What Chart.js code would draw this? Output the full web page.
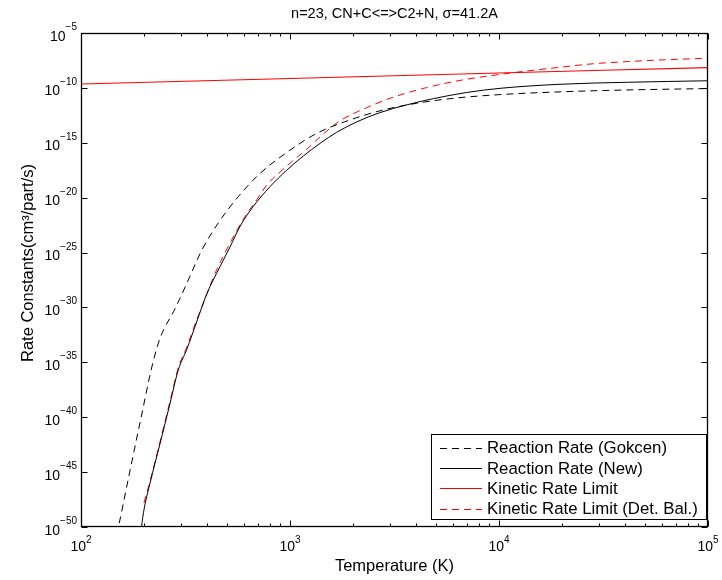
<!DOCTYPE html>
<html><head><meta charset="utf-8">
<script src="https://cdn.jsdelivr.net/npm/chart.js@4/dist/chart.umd.min.js"></script>
<style>html,body{margin:0;padding:0;background:#fff}#wrap{width:722px;height:580px;position:relative}</style>
</head><body><div id="wrap"><canvas id="c"></canvas></div>
<script>
const chartTitle = 'n=23, CN+C<=>C2+N, σ=41.2A';
const xTitle = 'Temperature (K)';
const yTitle = 'Rate Constants(cm³/part/s)';
const seriesLabels = ['Reaction Rate (Gokcen)', 'Reaction Rate (New)', 'Kinetic Rate Limit', 'Kinetic Rate Limit (Det. Bal.)'];
const xTickValues = [1e2, 1e3, 1e4, 1e5];
const yTickValues = [1e-50, 1e-45, 1e-40, 1e-35, 1e-30, 1e-25, 1e-20, 1e-15, 1e-10, 1e-5];

// Temperatures (K) and log10 of rate constants
const gokcenT    = [148, 151, 171, 194, 221, 239, 282, 321, 378, 454, 566, 718, 946, 1343, 1936, 2793, 4036, 6039, 9931, 19590, 40830, 100000];
const gokcenLogK = [-50.7, -50.0, -45.0, -40.0, -35.0, -32.8, -30.1, -27.8, -24.8, -22.3, -19.9, -17.8, -16.0, -14.14, -12.92, -12.01, -11.40, -10.95, -10.62, -10.36, -10.19, -10.06];

const newT    = [193, 199, 214, 239, 267, 292, 321, 358, 399, 462, 516, 577, 667, 802, 964, 1159, 1393, 1671, 2084, 2698, 3614, 4853, 7000, 10120, 19590, 40830, 100000];
const newLogK = [-50.6, -48.7, -46.0, -42.4, -38.7, -35.7, -33.8, -31.3, -28.8, -26.3, -24.5, -22.6, -20.8, -19.0, -17.5, -16.2, -15.05, -14.05, -13.1, -12.25, -11.55, -10.98, -10.42, -10.04, -9.67, -9.49, -9.35];

const kineticT    = [100, 1000, 10000, 100000];
const kineticLogK = [-9.645, -9.145, -8.645, -8.145];

const detBalT    = [200, 214, 239, 267, 292, 321, 358, 378, 438, 516, 610, 693, 774, 879, 1038, 1202, 1368, 1702, 2328, 3119, 4508, 6501, 10120, 13580, 19590, 28250, 40830, 58880, 100000];
const detBalLogK = [-47.8, -45.8, -42.2, -38.5, -35.5, -33.6, -31.1, -30.0, -26.9, -24.15, -21.7, -20.2, -18.85, -17.8, -16.6, -15.6, -14.6, -13.1, -11.8, -10.85, -9.97, -9.32, -8.77, -8.46, -8.12, -7.80, -7.61, -7.46, -7.30];

const toPts = (ts, ls) => ts.map((t, i) => ({x: t, y: Math.pow(10, ls[i])}));

const FONT = '"Liberation Sans", Arial, Helvetica, sans-serif';
const expOf = v => String(Math.round(Math.log10(v))).replace('-', '\u2212');

const datasets = [
  {label: seriesLabels[0], data: toPts(gokcenT, gokcenLogK), borderColor: '#000000', borderDash: [7, 5], borderWidth: 1},
  {label: seriesLabels[1], data: toPts(newT, newLogK), borderColor: '#000000', borderWidth: 1},
  {label: seriesLabels[2], data: toPts(kineticT, kineticLogK), borderColor: '#ff0000', borderWidth: 1.2},
  {label: seriesLabels[3], data: toPts(detBalT, detBalLogK), borderColor: '#ff0000', borderDash: [7, 5], borderWidth: 1}
];

const decor = {
  id: 'decor',
  afterDraw(chart) {
    const {ctx, chartArea: a, scales: {x, y}} = chart;
    const L = Math.round(a.left) + 0.5, R = Math.round(a.right) - 0.5, T = Math.round(a.top) + 0.5, B = Math.round(a.bottom) - 0.5;
    ctx.save();
    ctx.strokeStyle = '#000';
    ctx.lineWidth = 1;
    ctx.setLineDash([]);
    ctx.beginPath();
    for (let d = 2; d <= 5; d++) {
      for (let m = 1; m <= 9; m++) {
        const v = m * Math.pow(10, d);
        if (v > 1e5) break;
        const px = Math.round(x.getPixelForValue(v)) + 0.5;
        const len = m === 1 ? 6 : 3;
        ctx.moveTo(px, B); ctx.lineTo(px, B - len);
        ctx.moveTo(px, T); ctx.lineTo(px, T + len);
      }
    }
    yTickValues.forEach(v => {
      const py = Math.round(y.getPixelForValue(v)) + 0.5;
      ctx.moveTo(L, py); ctx.lineTo(L + 6, py);
      ctx.moveTo(R, py); ctx.lineTo(R - 6, py);
    });
    ctx.stroke();
    ctx.lineWidth = 1.3;
    ctx.strokeRect(L, T, R - L, B - T);

    // tick labels: 10 with raised exponent
    ctx.fillStyle = '#000';
    ctx.textBaseline = 'alphabetic';
    const big = '14px ' + FONT, small = '10px ' + FONT;
    yTickValues.forEach(v => {
      const py = y.getPixelForValue(v);
      const e = expOf(v);
      ctx.font = small; const we = ctx.measureText(e).width;
      ctx.textAlign = 'right';
      ctx.fillText(e, 77, py - 3);
      ctx.font = big;
      ctx.fillText('10', 77 - we, py + 7.5);
    });
    xTickValues.forEach(v => {
      const px = x.getPixelForValue(v);
      const e = expOf(v);
      ctx.font = small; const we = ctx.measureText(e).width;
      ctx.font = big; const wb = ctx.measureText('10').width;
      const x0 = px - (wb + we) / 2;
      ctx.textAlign = 'left';
      ctx.fillText('10', x0, 551);
      ctx.font = small;
      ctx.fillText(e, x0 + wb, 543);
    });

    // y axis title
    ctx.save();
    ctx.translate(28, 263);
    ctx.rotate(-Math.PI / 2);
    ctx.font = '16.5px ' + FONT;
    ctx.textAlign = 'center';
    ctx.textBaseline = 'middle';
    ctx.fillText(yTitle, 0, 0);
    ctx.restore();

    // title
    ctx.font = '14.5px ' + FONT;
    ctx.textAlign = 'center';
    ctx.textBaseline = 'middle';
    ctx.fillText(chartTitle, (a.left + a.right) / 2, 14);

    // legend
    const bx = 431.5, by = 434.5, bw = 275, bh = 85;
    ctx.fillStyle = '#fff';
    ctx.fillRect(bx, by, bw, bh);
    ctx.lineWidth = 1;
    ctx.strokeStyle = '#000';
    ctx.strokeRect(bx, by, bw, bh);
    ctx.font = '16.8px ' + FONT;
    ctx.textAlign = 'left';
    ctx.textBaseline = 'middle';
    datasets.forEach((ds, i) => {
      const cy = 447.5 + i * 20.4;
      ctx.save();
      ctx.beginPath();
      ctx.strokeStyle = ds.borderColor;
      ctx.lineWidth = ds.borderWidth;
      ctx.setLineDash(ds.borderDash ? ds.borderDash : []);
      ctx.moveTo(440, Math.round(cy) + 0.5); ctx.lineTo(482, Math.round(cy) + 0.5);
      ctx.stroke();
      ctx.restore();
      ctx.fillStyle = '#000';
      ctx.fillText(ds.label, 487, cy + 1);
    });
    ctx.restore();
  }
};

new Chart(document.getElementById('c'), {
  type: 'line',
  data: {datasets},
  options: {
    responsive: true,
    maintainAspectRatio: false,
    animation: false,
    layout: {padding: {top: 33, right: 14, left: 0, bottom: 0}},
    elements: {point: {radius: 0}, line: {tension: 0, cubicInterpolationMode: 'monotone', fill: false}},
    plugins: {legend: {display: false}, tooltip: {enabled: false}, title: {display: false}},
    scales: {
      x: {
        type: 'logarithmic', min: 100, max: 100000,
        grid: {display: false, drawTicks: false}, border: {display: false},
        afterBuildTicks: s => { s.ticks = xTickValues.map(v => ({value: v})); },
        afterFit: s => { s.height = 53; },
        ticks: {display: false},
        title: {display: true, text: xTitle, color: '#000', font: {family: FONT, size: 16.5}, padding: {top: 0, bottom: 4}}
      },
      y: {
        type: 'logarithmic', min: 1e-50, max: 1e-5,
        grid: {display: false, drawTicks: false}, border: {display: false},
        afterBuildTicks: s => { s.ticks = yTickValues.map(v => ({value: v})); },
        afterFit: s => { s.width = 81; },
        ticks: {display: false},
        title: {display: false}
      }
    }
  },
  plugins: [decor]
});
</script>
</body></html>
